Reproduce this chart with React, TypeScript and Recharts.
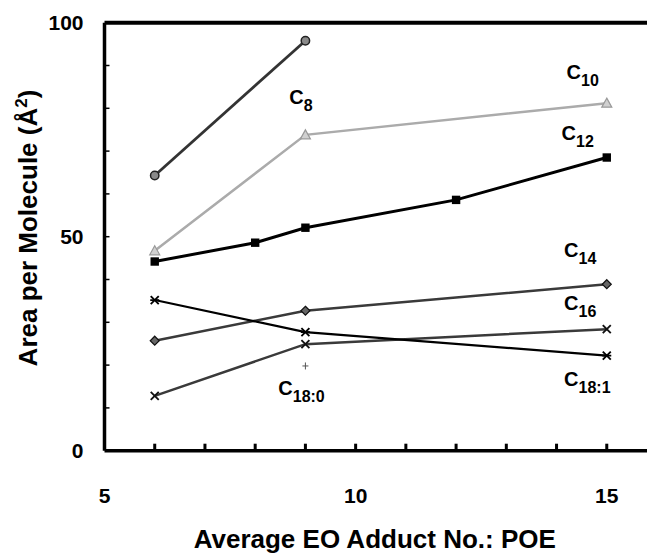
import { LineChart, Line, XAxis, YAxis, ReferenceLine, ReferenceDot, Label } from "recharts"

const font = '"Liberation Sans", Arial, Helvetica, sans-serif'

// EO adduct numbers and areas per molecule
const xC8 = [6, 9]
const areaC8 = [64.3, 95.8]
const xC10 = [6, 9, 15]
const areaC10 = [46.7, 73.8, 81.2]
const xC12 = [6, 8, 9, 12, 15]
const areaC12 = [44.2, 48.6, 52.1, 58.6, 68.5]
const xC14 = [6, 9, 15]
const areaC14 = [25.7, 32.7, 38.9]
const xC16 = [6, 9, 15]
const areaC16 = [12.8, 24.9, 28.4]
const xC181 = [6, 9, 15]
const areaC181 = [35.2, 27.7, 22.2]
const xC180 = [9]
const areaC180 = [19.8]

const xTicks = [5, 6, 7, 8, 9, 10, 11, 12, 13, 14, 15, 16]
const xLabels = [5, 10, 15]
const yTicks = [0, 10, 20, 30, 40, 50, 60, 70, 80, 90, 100]
const yLabels = [0, 50, 100]

// series tags: name, subscript, anchor (x, y) in data units
const tagNames = ["C", "C", "C", "C", "C", "C", "C"]
const tagSubs = ["8", "10", "12", "14", "16", "18:1", "18:0"]
const tagX = [8.68, 14.2, 14.1, 14.15, 14.15, 14.15, 8.46]
const tagY = [81.0, 86.8, 72.6, 45.3, 32.9, 15.1, 13.0]

const toPoints = (xs: number[], ys: number[]) =>
  xs.map((x, i) => ({ x, y: ys[i] }))

type DotProps = { cx?: number; cy?: number; index?: number }

const circleDot = ({ cx = 0, cy = 0, index }: DotProps) => (
  <circle key={`c8-${index}`} cx={cx} cy={cy} r={4.2} fill="#8a8a8a" stroke="#222" strokeWidth={1.5} />
)

const triangleDot = ({ cx = 0, cy = 0, index }: DotProps) => (
  <polygon
    key={`c10-${index}`}
    points={`${cx},${cy - 5} ${cx + 5},${cy + 4} ${cx - 5},${cy + 4}`}
    fill="#d0d0d0"
    stroke="#999"
    strokeWidth={1.2}
  />
)

const squareDot = ({ cx = 0, cy = 0, index }: DotProps) => (
  <rect key={`c12-${index}`} x={cx - 4.2} y={cy - 4.2} width={8.4} height={8.4} fill="#000" />
)

const diamondDot = ({ cx = 0, cy = 0, index }: DotProps) => (
  <polygon
    key={`c14-${index}`}
    points={`${cx},${cy - 4.5} ${cx + 4.5},${cy} ${cx},${cy + 4.5} ${cx - 4.5},${cy}`}
    fill="#666"
    stroke="#111"
    strokeWidth={1.2}
  />
)

const crossDot = ({ cx = 0, cy = 0, index }: DotProps) => (
  <g key={`c16-${index}`} stroke="#111" strokeWidth={1.8}>
    <line x1={cx - 4} y1={cy - 4} x2={cx + 4} y2={cy + 4} />
    <line x1={cx - 4} y1={cy + 4} x2={cx + 4} y2={cy - 4} />
  </g>
)

const starDot = ({ cx = 0, cy = 0, index }: DotProps) => (
  <g key={`c181-${index}`} stroke="#000" strokeWidth={1.8}>
    <line x1={cx - 4} y1={cy - 4} x2={cx + 4} y2={cy + 4} />
    <line x1={cx - 4} y1={cy + 4} x2={cx + 4} y2={cy - 4} />
    <line x1={cx - 4.5} y1={cy} x2={cx + 4.5} y2={cy} />
  </g>
)

const plusDot = ({ cx = 0, cy = 0, index }: DotProps) => (
  <g key={`c180-${index}`} stroke="#555" strokeWidth={1}>
    <line x1={cx - 3} y1={cy} x2={cx + 3} y2={cy} />
    <line x1={cx} y1={cy - 3.5} x2={cx} y2={cy + 3.5} />
  </g>
)

const XTick = ({ x = 0, y = 0, payload }: any) => {
  const v = payload?.value
  return (
    <g>
      {v > 5 && v < 16 && <rect x={x - 1.5} y={y - 7} width={3} height={7} fill="#000" />}
      {xLabels.includes(v) && (
        <text
          x={x}
          y={y + 45}
          textAnchor="middle"
          dominantBaseline="central"
          fontFamily={font}
          fontWeight="bold"
          fontSize={21}
          fill="#000"
        >
          {v}
        </text>
      )}
    </g>
  )
}

const YTick = ({ x = 0, y = 0, payload }: any) => {
  const v = payload?.value
  return (
    <g>
      {v > 0 && v < 100 && <line x1={x} y1={y} x2={x + 5} y2={y} stroke="#000" strokeWidth={1.5} />}
      {yLabels.includes(v) && (
        <text
          x={x - 21}
          y={y}
          textAnchor="end"
          dominantBaseline="central"
          fontFamily={font}
          fontWeight="bold"
          fontSize={21}
          fill="#000"
        >
          {v}
        </text>
      )}
    </g>
  )
}

const xTitle = ({ viewBox }: any) => (
  <text
    x={viewBox.x + viewBox.width / 2 - 6}
    y={548}
    textAnchor="middle"
    fontFamily={font}
    fontWeight="bold"
    fontSize={26}
    fill="#000"
  >
    Average EO Adduct No.: POE
  </text>
)

const yTitle = ({ viewBox }: any) => {
  const cx = viewBox.x + 37
  const cy = 228
  return (
    <text
      x={cx}
      y={cy}
      transform={`rotate(-90, ${cx}, ${cy})`}
      textAnchor="middle"
      fontFamily={font}
      fontWeight="bold"
      fontSize={26}
      fill="#000"
    >
      Area per Molecule (Å
      <tspan fontSize={17} dy={-10}>2</tspan>
      <tspan dy={10}>)</tspan>
    </text>
  )
}

const makeTag = (name: string, sub: string) => (props: any) => {
  const vb = props.viewBox || {}
  return (
    <text x={vb.x} y={vb.y} fontFamily={font} fontWeight="bold" fontSize={20} fill="#000">
      {name}
      <tspan fontSize={16} dy={7}>{sub}</tspan>
    </text>
  )
}

export default function App() {
  return (
    <div
      style={{
        position: "absolute",
        left: 0,
        top: 0,
        width: 647,
        height: 560,
        overflow: "hidden",
        background: "#fff"
      }}
    >
      <LineChart
        width={660}
        height={560}
        margin={{ top: 22.7, right: 3, bottom: 0, left: 0 }}
      >
        <XAxis
          type="number"
          dataKey="x"
          domain={[5, 16]}
          ticks={xTicks}
          allowDataOverflow
          interval={0}
          tickLine={false}
          tickSize={0}
          tickMargin={0}
          tick={<XTick />}
          axisLine={{ stroke: "#000", strokeWidth: 3.5 }}
          height={109.3}
        >
          <Label content={xTitle} />
        </XAxis>

        <YAxis
          type="number"
          dataKey="y"
          domain={[0, 100]}
          ticks={yTicks}
          allowDataOverflow
          interval={0}
          tickLine={false}
          tickSize={0}
          tickMargin={0}
          tick={<YTick />}
          axisLine={{ stroke: "#000", strokeWidth: 3.5 }}
          width={104.5}
        >
          <Label content={yTitle} />
        </YAxis>

        <ReferenceLine y={100} stroke="#000" strokeWidth={4} />

        <Line
          data={toPoints(xC8, areaC8)}
          dataKey="y"
          type="linear"
          stroke="#333"
          strokeWidth={2.8}
          dot={circleDot}
          isAnimationActive={false}
        />
        <Line
          data={toPoints(xC10, areaC10)}
          dataKey="y"
          type="linear"
          stroke="#ababab"
          strokeWidth={2.5}
          dot={triangleDot}
          isAnimationActive={false}
        />
        <Line
          data={toPoints(xC12, areaC12)}
          dataKey="y"
          type="linear"
          stroke="#000"
          strokeWidth={3}
          dot={squareDot}
          isAnimationActive={false}
        />
        <Line
          data={toPoints(xC14, areaC14)}
          dataKey="y"
          type="linear"
          stroke="#3a3a3a"
          strokeWidth={2.5}
          dot={diamondDot}
          isAnimationActive={false}
        />
        <Line
          data={toPoints(xC16, areaC16)}
          dataKey="y"
          type="linear"
          stroke="#3a3a3a"
          strokeWidth={2.5}
          dot={crossDot}
          isAnimationActive={false}
        />
        <Line
          data={toPoints(xC181, areaC181)}
          dataKey="y"
          type="linear"
          stroke="#000"
          strokeWidth={2.2}
          dot={starDot}
          isAnimationActive={false}
        />
        <Line
          data={toPoints(xC180, areaC180)}
          dataKey="y"
          type="linear"
          stroke="none"
          dot={plusDot}
          isAnimationActive={false}
        />

        {tagNames.map((name, i) => (
          <ReferenceDot
            key={`tag-${i}`}
            x={tagX[i]}
            y={tagY[i]}
            r={0}
            fill="none"
            stroke="none"
            label={makeTag(name, tagSubs[i])}
          />
        ))}
      </LineChart>
    </div>
  )
}
